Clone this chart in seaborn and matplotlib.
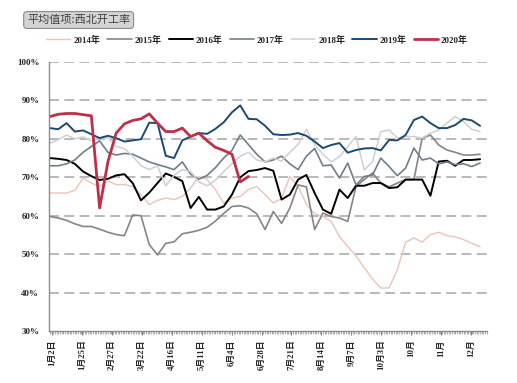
import numpy as np
import pandas as pd
import matplotlib
matplotlib.use("Agg")
import matplotlib.pyplot as plt
from matplotlib.ticker import MultipleLocator, FixedLocator
import seaborn as sns

# ---------------- data ----------------
years = ["2014年", "2015年", "2016年", "2017年", "2018年", "2019年", "2020年"]

y2014 = [65.9, 65.9, 65.9, 66.6, 69.8, 68.5, 67.6, 69.0, 68.1, 68.1, 67.6, 65.5, 62.9, 64.0, 64.6, 64.2,
         65.0, 67.2, 70.2, 69.4, 66.8, 63.3, 64.6, 65.0, 66.8, 67.6, 65.5, 63.3, 64.5, 70.2, 67.6, 63.0,
         60.5, 59.8, 58.5, 54.6, 52.0, 49.5, 46.4, 43.5, 41.2, 41.2, 46.0, 53.1, 54.2, 53.1, 55.1, 55.7,
         54.8, 54.5, 53.8, 52.8, 51.9]
y2015 = [59.8, 59.4, 58.8, 57.9, 57.2, 57.2, 56.5, 55.7, 55.1, 54.8, 60.2, 60.0, 52.5, 49.8, 52.8, 53.2,
         55.3, 55.7, 56.2, 57.0, 58.6, 60.6, 62.4, 62.6, 62.0, 60.5, 56.4, 61.1, 58.0, 62.0, 68.0, 67.5,
         56.4, 60.7, 59.8, 59.4, 58.5, 67.6, 69.4, 71.1, 68.5, 67.5, 68.5, 69.4, 69.4, 80.2, 81.0, 78.4,
         77.1, 76.5, 75.8, 75.8, 76.0]
y2016 = [75.0, 74.8, 74.5, 73.5, 71.5, 70.3, 69.3, 69.6, 70.5, 70.8, 68.5, 64.0, 66.0, 68.5, 71.0, 70.1,
         69.0, 62.0, 64.9, 61.6, 61.6, 62.4, 65.5, 70.0, 71.6, 71.9, 72.4, 71.7, 64.2, 65.5, 69.4, 70.6,
         65.9, 61.6, 60.5, 66.8, 64.6, 67.8, 67.8, 68.5, 68.5, 67.2, 67.4, 69.4, 69.4, 69.4, 65.2, 74.1,
         74.3, 73.0, 74.5, 74.5, 74.7]
y2017 = [73.0, 73.0, 73.5, 74.5, 76.5, 78.0, 79.5, 76.5, 75.8, 76.2, 76.0, 75.0, 74.0, 73.3, 72.7, 72.0,
         74.0, 70.8, 69.5, 70.5, 72.5, 75.0, 77.0, 81.0, 78.5, 76.0, 74.0, 74.5, 75.5, 73.5, 72.0, 75.5,
         77.5, 73.0, 73.2, 69.8, 73.7, 68.0, 70.2, 70.6, 75.0, 72.8, 70.4, 72.4, 77.6, 74.5, 75.0, 73.5,
         74.0, 73.3, 73.5, 72.8, 73.7]
y2018 = [78.9, 79.8, 81.0, 80.0, 80.5, 79.5, 80.0, 80.3, 78.0, 77.5, 75.5, 73.0, 72.0, 73.0, 67.8, 70.5,
         72.0, 71.5, 68.8, 67.8, 69.2, 71.5, 73.5, 75.5, 76.5, 74.5, 74.0, 75.0, 74.2, 76.5, 78.5, 82.5,
         78.5, 76.0, 74.0, 75.4, 78.0, 80.6, 71.9, 74.1, 81.9, 82.3, 80.2, 80.6, 80.6, 80.2, 81.5, 82.3,
         84.1, 85.8, 84.5, 82.5, 81.9]
y2019 = [82.8, 82.5, 84.1, 81.9, 82.2, 81.2, 80.2, 80.8, 80.2, 79.3, 79.6, 79.9, 84.2, 84.1, 75.6, 75.0,
         79.6, 80.6, 81.5, 81.3, 82.6, 84.3, 86.9, 88.7, 85.2, 85.1, 83.4, 81.2, 81.0, 81.1, 81.5, 80.8,
         79.3, 77.6, 78.4, 78.9, 76.4, 77.1, 77.5, 77.6, 77.0, 79.7, 79.6, 81.0, 84.9, 85.8, 84.1, 82.8,
         82.8, 83.6, 85.2, 84.8, 83.4]
y2020 = [85.8, 86.4, 86.6, 86.6, 86.3, 86.0, 62.0, 74.0, 81.5, 83.9, 84.8, 85.2, 86.5, 84.1, 81.9, 81.9,
         82.8, 80.6, 81.5, 79.5, 77.8, 77.0, 76.0, 68.8, 70.2]

tick_labels = ["1月2日", "1月25日", "2月27日", "3月22日", "4月16日", "5月11日", "6月4日", "6月28日",
               "7月21日", "8月14日", "9月7日", "10月3日", "10月", "11月", "12月"]

series = [y2014, y2015, y2016, y2017, y2018, y2019, y2020]
colors = ["#ecc3b5", "#858585", "#000000", "#6e7f89", "#cdcfd2", "#1c4a72", "#bf2f48"]
widths = [1.0, 1.2, 1.4, 1.2, 1.1, 1.4, 2.0]

rows = []
for yr, vals in zip(years, series):
    for i, v in enumerate(vals):
        rows.append((yr, i, v))
df = pd.DataFrame(rows, columns=["year", "week", "value"])

# ---------------- figure ----------------
sns.set_style("white")
plt.rcParams["font.family"] = ["Noto Sans CJK SC", "DejaVu Sans"]
mixed = ["Liberation Serif", "Noto Sans CJK SC"]

fig = plt.figure(figsize=(5.17, 3.83), dpi=100)
ax = fig.add_axes([49 / 517, 1 - 331 / 383, (487 - 49) / 517, (331 - 62) / 383])

for yr, c, w in zip(years, colors, widths):
    sns.lineplot(data=df[df["year"] == yr], x="week", y="value", color=c, linewidth=w,
                 ax=ax, label=yr, legend=False)

ax.set_xlim(-0.12, 52.84)
ax.set_ylim(30, 100)
ax.set_xlabel("")
ax.set_ylabel("")

# y axis
yt = np.arange(30, 101, 10)
ax.set_yticks(yt)
ax.set_yticklabels([f"{v}%" for v in yt], fontfamily="Liberation Serif",
                   fontweight="bold", fontsize=6.5)
ax.tick_params(axis="y", length=0, pad=7)
for v in yt[1:]:
    ax.axhline(v, color="#a6a6a6", linewidth=1.1, dashes=(6.5, 3.5), zorder=0)

# x axis
tick_pos = [0.24 + 3.62 * k for k in range(len(tick_labels))]
ax.xaxis.set_major_locator(FixedLocator(tick_pos))
ax.set_xticklabels(tick_labels, rotation=90, fontsize=6.3, fontweight="bold", family=mixed)
ax.xaxis.set_minor_locator(MultipleLocator(0.2))
ax.tick_params(axis="x", which="major", length=3, width=0.8, color="#808080", pad=3, direction="out")
ax.tick_params(axis="x", which="minor", length=2.5, width=0.5, color="#8c8c8c", direction="out")
ax.tick_params(axis="x", bottom=True, which="both")

for s in ["top", "right"]:
    ax.spines[s].set_visible(False)
for s in ["left", "bottom"]:
    ax.spines[s].set_color("#8c8c8c")
    ax.spines[s].set_linewidth(1.0)

# legend
handles, labels = ax.get_legend_handles_labels()
fig.legend(handles, labels, loc="center", bbox_to_anchor=(0.497, 1 - 40 / 383), ncol=7,
           frameon=False, handlelength=2.7, handletextpad=0.3,
           columnspacing=0.8, prop={"family": mixed, "weight": "bold", "size": 6.5})

# title box
fig.text(27 / 517, 1 - 20 / 383, "平均值项:西北开工率", fontsize=8, va="center", ha="left",
         color="#404040",
         bbox=dict(boxstyle="round,pad=0.3", facecolor="#d4d4d4", edgecolor="#8a8a8a", linewidth=0.8))

fig.savefig("out.png", dpi=100, facecolor="white")
